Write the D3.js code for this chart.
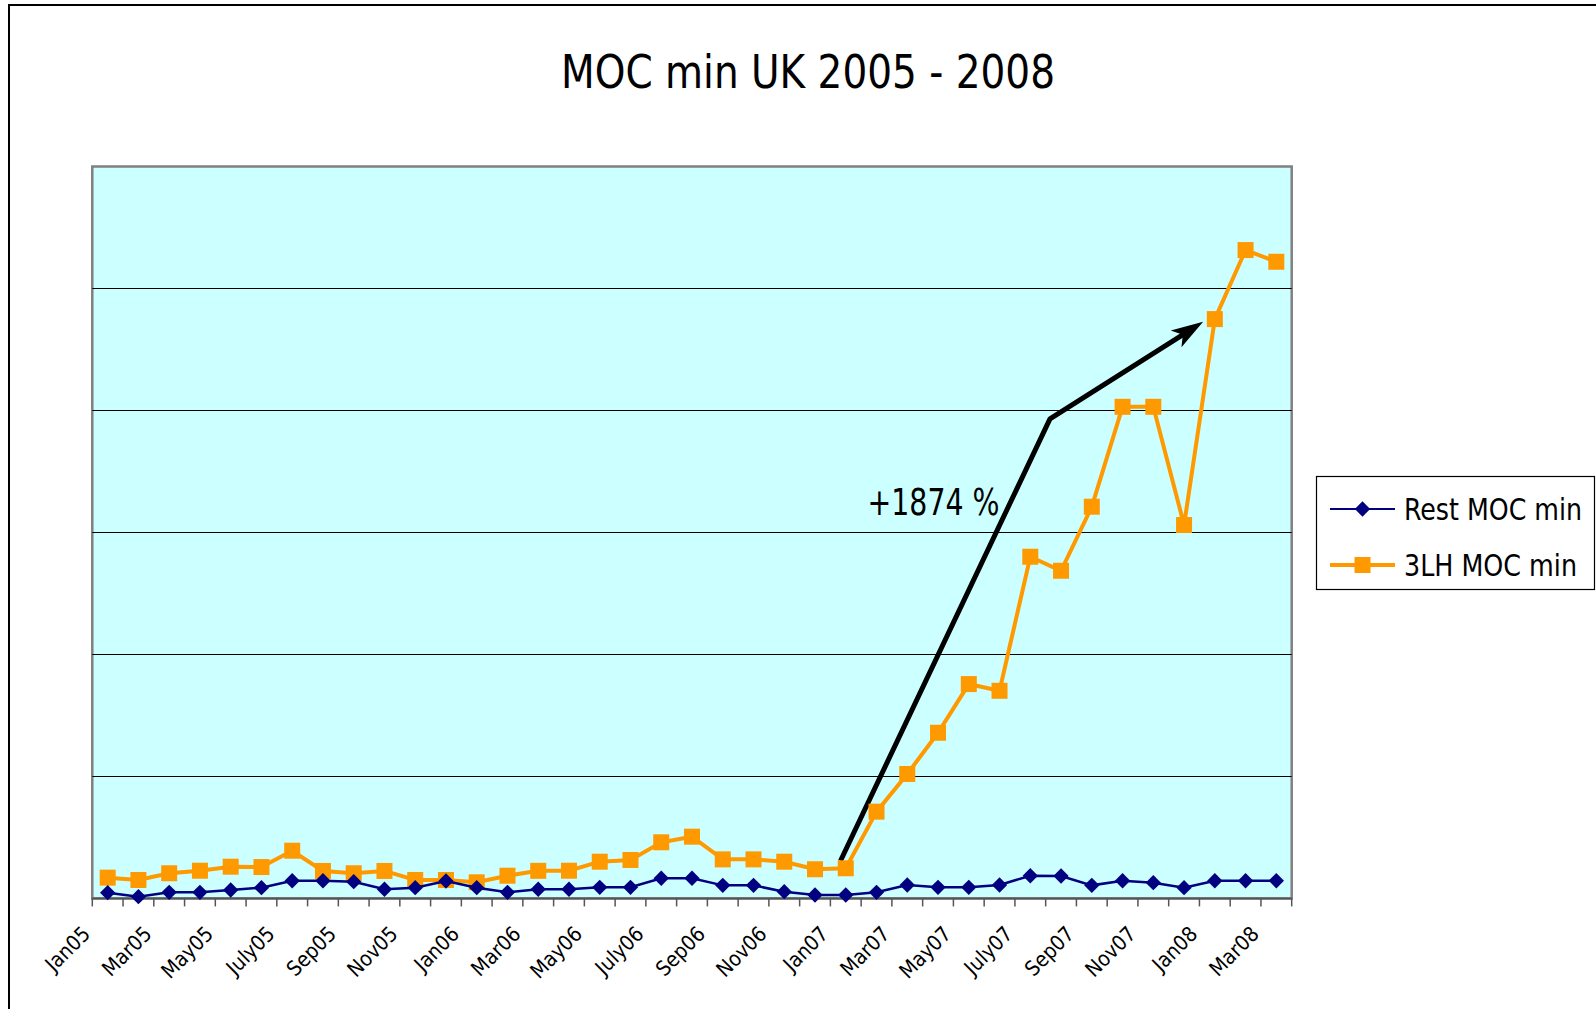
<!DOCTYPE html>
<html>
<head>
<meta charset="utf-8">
<script src="https://cdn.jsdelivr.net/npm/d3@7"></script>
<style>
body { margin: 0; background: #fff; }
svg text { font-family: "DejaVu Sans Condensed", "Liberation Sans Narrow", sans-serif; fill: #000; }
</style>
</head>
<body>
<script>
var width = 1596;
var height = 1009;

var title = "MOC min UK 2005 - 2008";
var months = [
    "Jan05", "Feb05", "Mar05", "Apr05", "May05", "June05", "July05", "Aug05", "Sep05", "Oct05", "Nov05", "Dec05",
    "Jan06", "Feb06", "Mar06", "Apr06", "May06", "June06", "July06", "Aug06", "Sep06", "Oct06", "Nov06", "Dec06",
    "Jan07", "Feb07", "Mar07", "Apr07", "May07", "June07", "July07", "Aug07", "Sep07", "Oct07", "Nov07", "Dec07",
    "Jan08", "Feb08", "Mar08"
];
var restMoc = [
    4.7, 1.4, 5.0, 5.0, 6.9, 8.8, 14.5, 14.5, 13.7, 7.5, 8.8, 14.3,
    8.8, 5.0, 7.5, 7.5, 9.1, 9.1, 16.5, 16.5, 10.7, 10.7, 5.5, 2.8,
    2.8, 5.0, 11.0, 9.1, 9.1, 11.0, 18.6, 18.4, 10.7, 14.5, 12.9, 8.8,
    14.5, 14.5, 14.5
];
var lhMoc = [
    17.0, 15.1, 20.6, 22.7, 26.0, 25.7, 39.1, 22.5, 20.6, 22.5, 15.1, 15.1,
    13.2, 18.6, 22.6, 22.7, 30.1, 31.5, 46.0, 50.6, 32.0, 32.0, 30.1, 23.9,
    24.7, 71.1, 102.0, 135.8, 175.7, 170.2, 280.1, 268.6, 321.1, 403.0, 403.0, 306.1,
    474.9, 531.5, 521.9
];
var gridValues = [100, 200, 300, 400, 500];
var seriesNames = ["Rest MOC min", "3LH MOC min"];
// arrow annotation in data terms: [month index, value]
var arrowPath = [[23.83, 30.9], [30.64, 393.1], [35.62, 472.7]];
var growthLabel = "+1874 %";
var growthAt = [29.0, 314];

var plot = {left: 92.3, right: 1291.7, top: 166.5, bottom: 898.4};

var x = d3.scaleBand().domain(months).range([plot.left, plot.right]).padding(0);
var xIdx = d3.scaleLinear()
    .domain([0, months.length - 1])
    .range([x(months[0]) + x.bandwidth() / 2, x(months[months.length - 1]) + x.bandwidth() / 2]);
var y = d3.scaleLinear().domain([0, 600]).range([plot.bottom, plot.top]);

var svg = d3.select("body")
    .append("svg")
    .attr("width", width)
    .attr("height", height)
;

// outer chart frame
svg.append("rect")
    .attr("x", 9)
    .attr("y", 5)
    .attr("width", width + 20)
    .attr("height", height + 20)
    .attr("fill", "#fff")
    .attr("stroke", "#000")
    .attr("stroke-width", 2)
;

svg.append("text")
    .attr("x", 561)
    .attr("y", 88)
    .attr("font-size", 47)
    .attr("textLength", 494)
    .attr("lengthAdjust", "spacingAndGlyphs")
    .text(title)
;

svg.append("rect")
    .attr("x", plot.left)
    .attr("y", plot.top)
    .attr("width", plot.right - plot.left)
    .attr("height", plot.bottom - plot.top)
    .attr("fill", "#ccffff")
    .attr("stroke", "#808080")
    .attr("stroke-width", 2.5)
;

svg.append("g")
    .attr("class", "grid")
    .selectAll("line")
    .data(gridValues)
    .enter().append("line")
    .attr("x1", plot.left)
    .attr("x2", plot.right)
    .attr("y1", d => Math.round(y(d)) + 0.5)
    .attr("y2", d => Math.round(y(d)) + 0.5)
    .attr("stroke", "#000")
    .attr("stroke-width", 1)
;

// category axis: ticks between categories, labels every other month
var xAxis = svg.append("g").attr("class", "axis");
var tickPos = months.map(m => x(m)).concat([plot.right]);
xAxis.selectAll("line.tick")
    .data(tickPos)
    .enter().append("line")
    .attr("class", "tick")
    .attr("x1", d => d)
    .attr("x2", d => d)
    .attr("y1", plot.bottom)
    .attr("y2", plot.bottom + 8)
    .attr("stroke", "#555")
    .attr("stroke-width", 1.5)
;
xAxis.append("line")
    .attr("x1", plot.left)
    .attr("x2", plot.right)
    .attr("y1", plot.bottom)
    .attr("y2", plot.bottom)
    .attr("stroke", "#555")
    .attr("stroke-width", 2)
;
xAxis.selectAll("text")
    .data(months.filter((m, i) => i % 2 == 0))
    .enter().append("text")
    .attr("transform", d => `translate(${x(d) - 6}, 930) rotate(-45)`)
    .attr("text-anchor", "end")
    .attr("dy", "0.35em")
    .attr("font-size", 21)
    .text(d => d)
;

// arrow annotation
var arrowPx = arrowPath.map(d => [xIdx(d[0]), y(d[1])]);
var tip = arrowPx[arrowPx.length - 1];
var prev = arrowPx[arrowPx.length - 2];
var ang = Math.atan2(tip[1] - prev[1], tip[0] - prev[0]);
var shaft = arrowPx.slice(0, -1).concat([[tip[0] - 22 * Math.cos(ang), tip[1] - 22 * Math.sin(ang)]]);
svg.append("path")
    .attr("d", d3.line()(shaft))
    .attr("fill", "none")
    .attr("stroke", "#000")
    .attr("stroke-width", 5)
    .attr("stroke-linejoin", "bevel")
;
svg.append("path")
    .attr("d", "M0,0 L-32,-10 L-24,0 L-32,10 Z")
    .attr("transform", `translate(${tip[0]}, ${tip[1]}) rotate(${ang * 180 / Math.PI})`)
    .attr("fill", "#000")
;
svg.append("text")
    .attr("x", xIdx(growthAt[0]) - 132)
    .attr("y", y(growthAt[1]))
    .attr("font-size", 37)
    .attr("textLength", 132)
    .attr("lengthAdjust", "spacingAndGlyphs")
    .text(growthLabel)
;

var line = d3.line()
    .x((d, i) => x(months[i]) + x.bandwidth() / 2)
    .y(d => y(d))
;

// 3LH series: orange squares
var lhG = svg.append("g").attr("class", "lh");
lhG.append("path")
    .attr("d", line(lhMoc))
    .attr("fill", "none")
    .attr("stroke", "#ff9900")
    .attr("stroke-width", 4)
;
lhG.selectAll("rect")
    .data(lhMoc)
    .enter().append("rect")
    .attr("x", (d, i) => x(months[i]) + x.bandwidth() / 2 - 8)
    .attr("y", d => y(d) - 8)
    .attr("width", 16)
    .attr("height", 16)
    .attr("fill", "#ff9900")
;

// rest series: navy diamonds
var restG = svg.append("g").attr("class", "rest");
restG.append("path")
    .attr("d", line(restMoc))
    .attr("fill", "none")
    .attr("stroke", "#000080")
    .attr("stroke-width", 2.5)
;
restG.selectAll("path.pt")
    .data(restMoc)
    .enter().append("path")
    .attr("class", "pt")
    .attr("d", d3.symbol().type(d3.symbolDiamond2).size(150))
    .attr("transform", (d, i) => `translate(${x(months[i]) + x.bandwidth() / 2}, ${y(d)})`)
    .attr("fill", "#000080")
;

// legend
var legend = svg.append("g").attr("class", "legend");
legend.append("rect")
    .attr("x", 1316.5)
    .attr("y", 476.5)
    .attr("width", 278)
    .attr("height", 113)
    .attr("fill", "#fff")
    .attr("stroke", "#000")
    .attr("stroke-width", 1.2)
;
var legendWidths = [178, 173];
var rows = legend.selectAll("g.row")
    .data(seriesNames)
    .enter().append("g")
    .attr("class", "row")
    .attr("transform", (d, i) => `translate(1330, ${509 + i * 56})`)
;
rows.append("line")
    .attr("x1", 0)
    .attr("x2", 65)
    .attr("stroke", (d, i) => i == 0 ? "#000080" : "#ff9900")
    .attr("stroke-width", (d, i) => i == 0 ? 2 : 4)
;
rows.filter((d, i) => i == 0).append("path")
    .attr("d", d3.symbol().type(d3.symbolDiamond2).size(150))
    .attr("transform", "translate(32.5, 0)")
    .attr("fill", "#000080")
;
rows.filter((d, i) => i == 1).append("rect")
    .attr("x", 24.5)
    .attr("y", -8)
    .attr("width", 16)
    .attr("height", 16)
    .attr("fill", "#ff9900")
;
rows.append("text")
    .attr("x", 74)
    .attr("y", 11)
    .attr("font-size", 30)
    .attr("textLength", (d, i) => legendWidths[i])
    .attr("lengthAdjust", "spacingAndGlyphs")
    .text(d => d)
;
</script>
</body>
</html>
